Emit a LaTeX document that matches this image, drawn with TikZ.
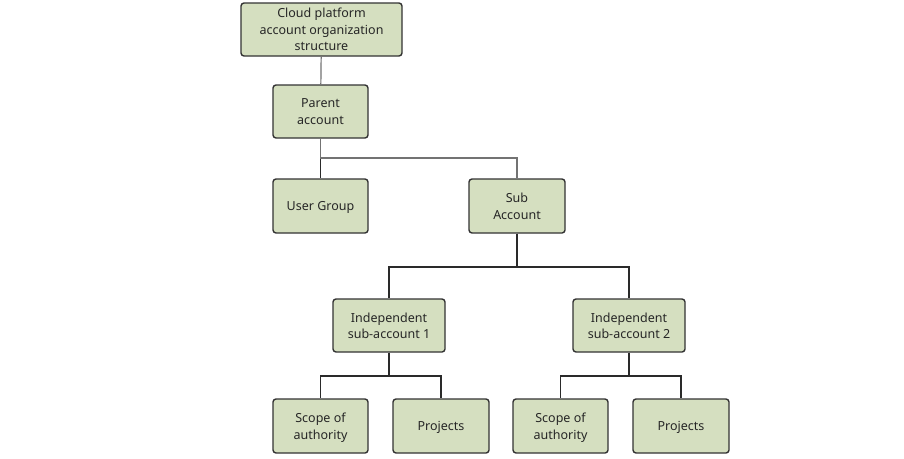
\documentclass[tikz,border=0pt]{standalone}
\usepackage{fontspec}
\setmainfont{Noto Sans}
\definecolor{boxfill}{HTML}{D5DFC0}
\definecolor{boxdraw}{HTML}{333333}
\definecolor{linecol}{HTML}{2A2A2A}
\begin{document}
\begin{tikzpicture}[x=1pt,y=-1pt,
  box/.style={draw=boxdraw,fill=boxfill,line width=1.4pt,rounded corners=3pt,
    align=center,font=\fontsize{12.5}{16.5}\selectfont,inner sep=0pt,text=black!85,
    text depth=0pt},
  conn/.style={draw=linecol,line width=1.6pt},
  lconn/.style={draw=black!55,line width=1.2pt}]
\useasboundingbox[fill=white] (0,0) rectangle (904,458);
\node[box,minimum width=161pt,minimum height=53pt] (top) at (321.5,29.5) {Cloud platform\\account organization\\structure};
\node[box,minimum width=95pt,minimum height=53pt] (parent) at (320.5,111.5) {Parent\\account};
\node[box,minimum width=95pt,minimum height=54pt] (user) at (320.5,206) {User Group};
\node[box,minimum width=96pt,minimum height=54pt] (sub) at (517,206) {Sub\\Account};
\node[box,minimum width=112pt,minimum height=53pt] (ind1) at (389,325.5) {Independent\\sub-account 1};
\node[box,minimum width=112pt,minimum height=53pt] (ind2) at (629,325.5) {Independent\\sub-account 2};
\node[box,minimum width=95pt,minimum height=54pt] (sc1) at (320.5,426) {Scope of\\authority};
\node[box,minimum width=96pt,minimum height=54pt] (pr1) at (441,426) {Projects};
\node[box,minimum width=95pt,minimum height=54pt] (sc2) at (560.5,426) {Scope of\\authority};
\node[box,minimum width=96pt,minimum height=54pt] (pr2) at (681,426) {Projects};
\draw[lconn] (top) -- (parent);
\draw[conn] (parent) -- (user);
\draw[lconn] (parent.south) |- (320.5,158) -| (sub.north);
\draw[conn] (sub.south) -- ++(0,33) -| (ind1.north);
\draw[conn] (sub.south) -- ++(0,33) -| (ind2.north);
\draw[conn] (ind1.south) -- ++(0,23.5) -| (sc1.north);
\draw[conn] (ind1.south) -- ++(0,23.5) -| (pr1.north);
\draw[conn] (ind2.south) -- ++(0,23.5) -| (sc2.north);
\draw[conn] (ind2.south) -- ++(0,23.5) -| (pr2.north);
\end{tikzpicture}
\end{document}
